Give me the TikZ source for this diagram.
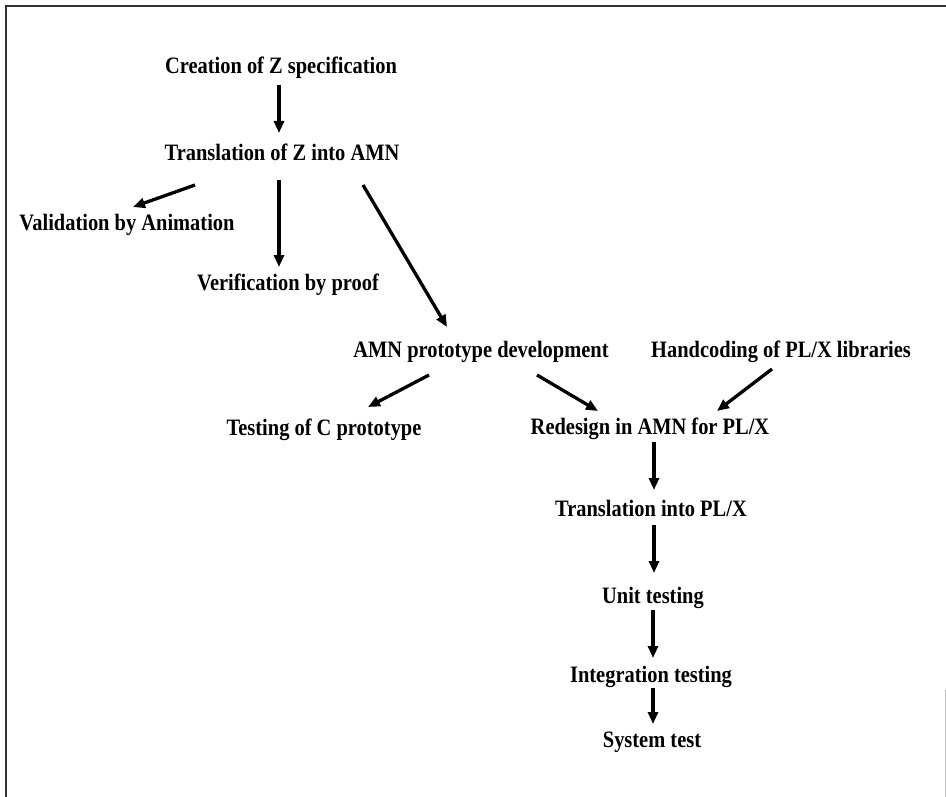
\documentclass[tikz,border=0pt]{standalone}
\usepackage{fontspec}
\setmainfont[FakeStretch=0.87]{Liberation Serif}
\usetikzlibrary{arrows.meta}
\tikzstyle{stage} = [inner sep=0pt, font=\fontsize{23.5}{27}\selectfont\bfseries]
\tikzstyle{arrow} = [line width=3.3pt, -{Triangle[length=12pt,width=10pt]}]
\tikzstyle{frame} = [line width=2pt, black!80]

\begin{document}
\begin{tikzpicture}[x=1pt, y=-1pt]
    \useasboundingbox (0,0) rectangle (946,797);
    \draw [frame] (6,797) -- (6,6) -- (946,6);
    \draw [black!25, line width=1pt] (945,690) -- (945,797);
    \node [stage] at (281,68) (create) {Creation of Z specification};
    \node [stage] at (282,152) (transZ) {Translation of Z into AMN};
    \node [stage] at (127,225) (valid) {Validation by Animation};
    \node [stage] at (288,285) (verif) {Verification by proof};
    \node [stage] at (481,352) (amndev) {AMN prototype development};
    \node [stage] at (781,352) (hand) {Handcoding of PL/X libraries};
    \node [stage] at (324,430) (testc) {Testing of C prototype};
    \node [stage] at (650,429) (redesign) {Redesign in AMN for PL/X};
    \node [stage] at (651,508) (transPLX) {Translation into PL/X};
    \node [stage] at (653,598) (unit) {Unit testing};
    \node [stage] at (651,677) (integ) {Integration testing};
    \node [stage] at (652,742) (systest) {System test};
    \draw [arrow] ([shift={(-2,17)}]create.center) -- ([shift={(-3,-19)}]transZ.center);
    \draw [arrow] ([shift={(-87,33)}]transZ.center) -- ([shift={(6,-18)}]valid.center);
    \draw [arrow] ([shift={(-3,28)}]transZ.center) -- ([shift={(-9,-18)}]verif.center);
    \draw [arrow] ([shift={(81,33)}]transZ.center) -- ([shift={(-34,-25)}]amndev.center);
    \draw [arrow] ([shift={(-52,23)}]amndev.center) -- ([shift={(44,-23)}]testc.center);
    \draw [arrow] ([shift={(56,23)}]amndev.center) -- ([shift={(-52,-18)}]redesign.center);
    \draw [arrow] ([shift={(-9,17)}]hand.center) -- ([shift={(67,-18)}]redesign.center);
    \draw [arrow] ([shift={(4,13)}]redesign.center) -- ([shift={(3,-18)}]transPLX.center);
    \draw [arrow] ([shift={(3,17)}]transPLX.center) -- ([shift={(1,-25)}]unit.center);
    \draw [arrow] ([shift={(0,12)}]unit.center) -- ([shift={(2,-19)}]integ.center);
    \draw [arrow] ([shift={(2,11)}]integ.center) -- ([shift={(1,-18)}]systest.center);
\end{tikzpicture}
\end{document}
